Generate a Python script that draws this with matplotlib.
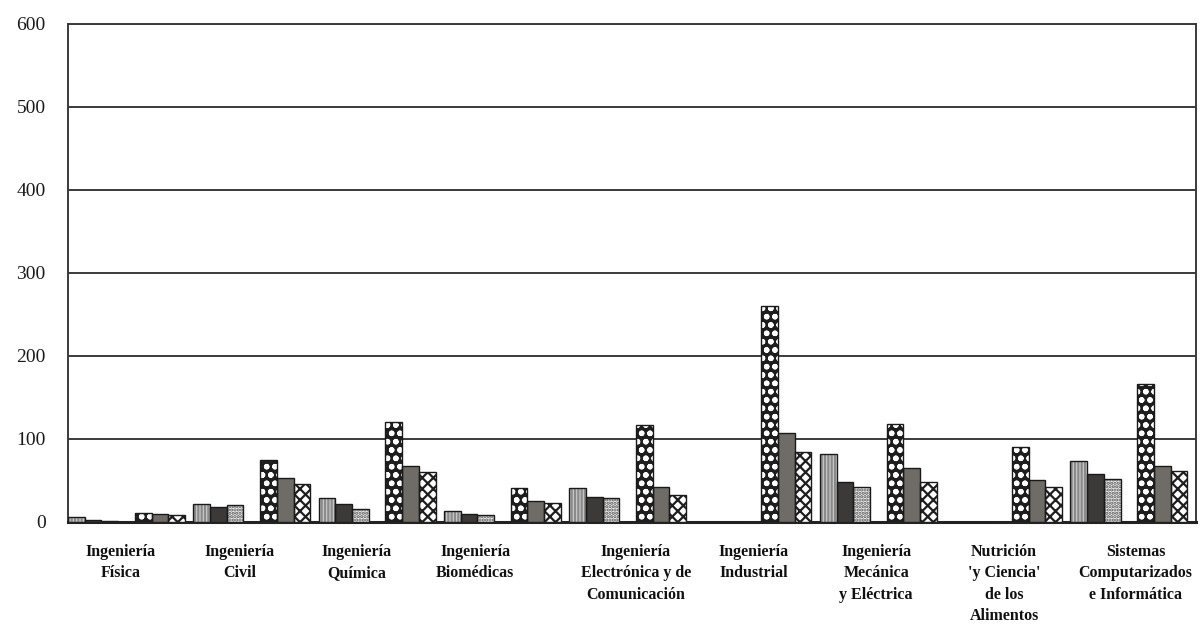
import matplotlib
matplotlib.use("Agg")
import matplotlib.pyplot as plt
import numpy as np
from matplotlib.transforms import blended_transform_factory

categories = ["Ingeniería\nFísica", "Ingeniería\nCivil", "Ingeniería\nQuímica",
              "Ingeniería\nBiomédicas", "Ingeniería\nElectrónica y de\nComunicación",
              "Ingeniería\nIndustrial", "Ingeniería\nMecánica\ny Eléctrica",
              "Nutrición\n'y Ciencia'\nde los\nAlimentos",
              "Sistemas\nComputarizados\ne Informática"]

serie1 = [5, 21, 28, 13, 40, 0, 81, 0, 73]
serie2 = [2, 18, 21, 9, 30, 0, 48, 0, 57]
serie3 = [1, 20, 15, 8, 29, 0, 42, 0, 51]
serie4 = [10, 74, 120, 40, 116, 260, 118, 90, 166]
serie5 = [9, 53, 67, 25, 42, 107, 65, 50, 67]
serie6 = [8, 45, 60, 22, 32, 84, 48, 42, 61]

yticks = [0, 100, 200, 300, 400, 500, 600]

# layout (not data)
label_offsets = [0.42, 0.37, 0.30, 0.25, 0.53, 0.47, 0.45, 0.47, 0.52]
slot = 1 / 7.5
slots = [0, 1, 2, 4, 5, 6]

fig = plt.figure(figsize=(12.03, 6.44), dpi=100)
ax = fig.add_axes([0.0565, 0.19, 0.9375, 0.773])

x = np.arange(len(categories))
series = [serie1, serie2, serie3, serie4, serie5, serie6]
styles = [
    dict(face="#cdcdcd", hatch="|||||", hcol="#8a8a8a"),
    dict(face="#3c3a38", hatch=None, hcol=None),
    dict(face="#f2f2f2", hatch=".....", hcol="#555555"),
    dict(face="#1e1e1e", hatch="oo", hcol="#ffffff"),
    dict(face="#6f6b66", hatch=None, hcol=None),
    dict(face="#ffffff", hatch="xxx", hcol="#1e1e1e"),
]

plt.rcParams["hatch.linewidth"] = 1.6
for vals, s, st in zip(series, slots, styles):
    pos = x + s * slot
    ax.bar(pos, vals, width=slot, align="edge", color=st["face"],
           hatch=st["hatch"], edgecolor=st["hcol"] if st["hatch"] else st["face"],
           linewidth=0, zorder=3)
    ax.bar(pos, vals, width=slot, align="edge", color="none",
           edgecolor="#1a1a1a", linewidth=1.0, zorder=4)

ax.set_xlim(0, 9)
ax.set_ylim(0, 600)
ax.set_yticks(yticks)
ax.set_yticklabels([str(t) for t in yticks], fontfamily="Liberation Serif",
                   fontsize=14, color="#1a1a1a")
ax.tick_params(axis="y", length=0, pad=16)
ax.set_xticks([])
ax.yaxis.grid(True, color="#3a3a3a", linewidth=1.4, zorder=1)
for sp in ["left", "right", "top"]:
    ax.spines[sp].set_color("#3a3a3a")
    ax.spines[sp].set_linewidth(1.4)
ax.spines["bottom"].set_color("#222222")
ax.spines["bottom"].set_linewidth(2.2)

trans = blended_transform_factory(ax.transData, ax.transAxes)
for i, (lab, off) in enumerate(zip(categories, label_offsets)):
    ax.text(i + off, -0.045, lab, transform=trans, ha="center", va="top",
            fontfamily="Liberation Serif", fontweight="bold", fontsize=11.5,
            linespacing=1.45, color="#111111")

fig.savefig("out.png", dpi=100, facecolor="white")
